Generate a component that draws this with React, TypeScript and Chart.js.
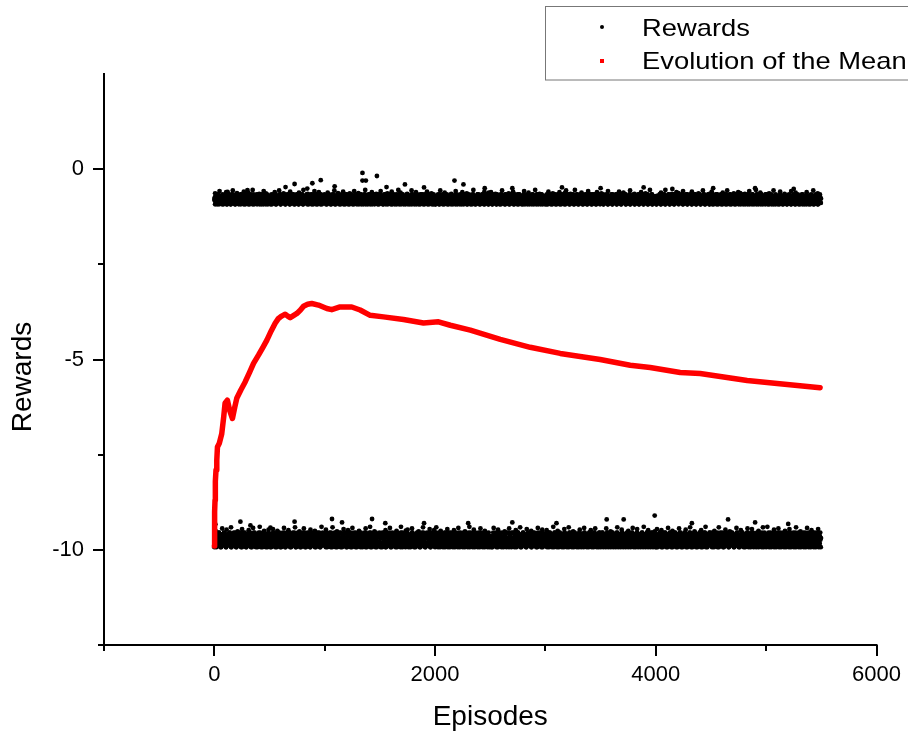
import React, { useEffect, useRef } from "react";
import { Chart, registerables } from "chart.js";

Chart.register(...registerables);

const FONT = '"Liberation Sans", Arial, Helvetica, sans-serif';

// Axis ranges and tick spacing
const X_MIN = -1000;
const X_MAX = 6000;
const X_STEP = 1000;
const X_LABEL_EVERY = 2000;
const Y_MIN = -12.5;
const Y_MAX = 2.5;
const Y_STEP = 2.5;
const Y_LABEL_EVERY = 5;

const xTitle = "Episodes";
const yTitle = "Rewards";
const rewardsLabel = "Rewards";
const meanLabel = "Evolution of the Mean";

// Running mean of the rewards, sampled along the episodes
const meanEpisodes = [
  0, 1, 2, 4, 6, 9, 15, 22, 28, 45, 67, 85, 97, 118, 140, 164, 185, 203, 240,
  279, 320, 355, 401, 440, 476, 515, 551, 581, 610, 642, 665, 687, 720, 748,
  780, 808, 845, 883, 943, 1019, 1064, 1139, 1245, 1321, 1412, 1533, 1714,
  1895, 2031, 2138, 2319, 2591, 2862, 3134, 3496, 3768, 3949, 4221, 4402,
  4828, 5100, 5489,
];
const meanValues = [
  -9.9, -9.8, -9.5, -9.0, -8.7, -8.2, -7.9, -7.65, -7.3, -7.2, -6.95, -6.5,
  -6.15, -6.07, -6.35, -6.55, -6.25, -6.02, -5.8, -5.59, -5.33, -5.1, -4.88,
  -4.68, -4.49, -4.25, -4.05, -3.92, -3.86, -3.81, -3.86, -3.9, -3.84, -3.79,
  -3.7, -3.6, -3.55, -3.53, -3.57, -3.66, -3.69, -3.62, -3.62, -3.7, -3.84,
  -3.88, -3.95, -4.04, -4.01, -4.1, -4.23, -4.47, -4.68, -4.84, -5.0, -5.15,
  -5.21, -5.34, -5.37, -5.55, -5.63, -5.74,
];

// Per-episode rewards, one code per 5 episodes for each run of codes.
// Successful episodes: reward = SUCCESS_BASE + code * SUCCESS_STEP
// Failed episodes:     reward = FAILURE_BASE + code * FAILURE_STEP
const EPISODE_STEP = 5;
const SUCCESS_BASE = -0.96;
const SUCCESS_STEP = 0.037;
const FAILURE_BASE = -9.93;
const FAILURE_STEP = 0.048;

// First run of rewards, starting at episode 0
const successCodesA = [
  "4625318473362514273685124736651428374615293746251847326514837246153826471536284735162847315264837152",
  "5314267485213647352816453724615382746153284765132846517324685132746582314765283147652831476258314765",
  "3746152837461582374615289374615263748152837461528374615283746915283746152837461528374615283746251837",
  "2547316285413762543817264531728465312746853124763581427365184273651842763158247361542873615247386152",
  "6142735184627315426837154263718425637148523671452837164253817462537184265317428635174283561472835164",
  "3728164552813746213857462318547263158427361852437162854731624851736248517362485173624851736248517362",
  "4516273845162738451627384516273845196273845162738451627384516273845162738451627384516273845162738451",
  "2635417263854172635481726354817263548172693548172635481726354817263548172635481726354817263548172635",
  "5173624851736248517362485173624851736248597362485173624851736248517362485173624851736248517362485173",
  "3482516734825167348251673482516734825167348251673482591673482516734825167348251673482516734825167348",
  "6251473625147362514736251473625147362514736251473625147362514736251473625147362514736251473625147362",
];
const failureCodesA = [
  "0352716481203571648230517462813054726183025741683201574862031547286301574826310457286130457826310457",
  "2610573481526037148250361748205637148260357418260537142860351742860357418206357148260357148206357142",
  "1405263718405263178405623718405263718450263718405263781405263718405236718405263718405263718405263718",
  "3162057481306215748130621574813062157481306215794813062157481306215748130621574813062157481306215748",
  "0527143860527143680527143860527143860527413860527143860527143860527143860257143860527143860527143860",
  "4213065738421306573842130657384213065738421306597384213065738421306573842130657384213065738421306573",
  "2750413682750413682750143682750413682750413682750413682750413682705413682750413682750413682750413682",
  "1638205741638205741638205741683205741638205741638205741638250741638205741638205741638205741638205741",
  "3041726583041726583041726583041726583041726538041726583041726583041726583041726583041726583041726583",
  "5206314872520631487252063148725206314872520631487252063148725206314872520631847252063148725206314872",
  "0473516280473516280473516280473516280473516280473516280473516280473516280473516280473516280473516280",
];

// Second run of rewards, starting at episode 2
const successCodesB = [
  "5163728417263584137265418327615834276158432716584327615843726158347261583472615834726158437261584372",
  "2748163527481635274816352748163527841635274816352748163527481635274816532748163527481635274816352748",
  "6314725836147258361472583614725836147258361742583614725836147258361472583614725836147258361472583614",
  "4827361548273615482736154827361548273615482736154827361548723615482736154827361548273615482736154827",
  "1536284715362847153628471536284715362847153628471536284751362847153628471536284715362847153628471536",
  "3751846237518462375184623751846237518462375184623751846237518462375184623751846237518462375184623751",
  "5284173652841736528417365284173652841736528417365284173652841736528417365284173652841736528417365284",
  "2463817524638175246381752463817524638175246381752463817524638175246381752463817524638175246381752463",
  "6135724861357248613572486135724861357248613572486135724861357248613572486135724861357248613572486135",
  "4718253647182536471825364718253647182536471825364718253647182536471825364718253647182536471825364718",
  "3825617438256174382561743825617438256174382561743825617438256174382561743825617438256174382561743825",
];
const failureCodesB = [
  "4160527384160527384160527348160527384160527384160527384160527384160527384160527384160527384160527384",
  "7031648257031648257031648257031648257031648257301648257031648257031648257031648257031648257031648257",
  "2584061732584061732584061732584061732584061732584061732584061732584601732584061732584061732584061732",
  "5062817435062817435062817435062817435062817435062817435062817435062817435062871435062817435062817435",
  "1847302561847302561847302561847302561847302561847302561847302561847302561847302561847302561847302561",
  "6205381476205381476205381476205381476205381476205381476205381476205381476205381476205381476205381476",
  "3714620853714620853714620853714620853714620853714620853714620853714620853714620853714620853714620853",
  "0538172640538172640538172640538172640538172640538172640538172640538172640538172640538172640538172640",
  "7260413857260413857260413857260413857260413857260413857260413857260413857260413857260413857260413857",
  "2481605372481605372481605372481605372481605372481605372481605372481605372481605372481605372481605372",
  "5371802645371802645371802645371802645371802645371802645371802645371802645371802645371802645371802645",
];

// Sparse rewards along the upper edge of each band, one code per 20 episodes ('.' = none)
const FRINGE_STEP = 20;
const SUCCESS_FRINGE_BASE = -0.68;
const FAILURE_FRINGE_BASE = -9.53;
const FRINGE_CODE_STEP = 0.015;
const successFringe = [
  "3.7..52.8.1..6.4.9..2.73.",
  "..5.8.3..61..4.9.2..7.5..",
  ".4..8.2.6..3.7..1.9..5.2.",
  "7..3.6..94..2.8.5..1.6.3.",
  "..8.4..2.7..5.3..9.1..6.4",
  "5.2..8..3.6.1..7.4..9.2..",
  ".6.3..5..8.2.9..4..7.1.5.",
  "3..7.1..6.4..8.2..5.3.9..",
  "..4.9..2.5..7.1.6..3.8..2",
  "6.1..4.8..3.5..2.7..9.4..",
  ".3.8..6.2..7.4..1.5..8.3.",
];
const failureFringe = [
  "2..6.4.8..1.5..3.7..9.2.4",
  ".5.2..7.3..8.1.6..4.2..9.",
  "4..8.1..5.3.7..2..6.9.1..",
  "..3.7..2.9..4.6..1.8..5.3",
  "8.2..5..3.7..1.9.4..6.2..",
  ".7.4..1.6..3.8..5.2..7.4.",
  "3..9.2..5.8.1..4.7..3.6..",
  "..6.1..8.4..2.7.5..9.3..1",
  "5.3..7.2..6..4.8.1..3.9..",
  ".2.8..4.1..7.3..6.5..2.8.",
  "9..4.6..2.5..8.1..7.3..5.",
];

// Rewards that stand clear of the two bands: [episode, reward]
const successOutliers: [number, number][] = [
  [1342, -0.1], [1342, -0.3], [1373, -0.3], [1473, -0.18], [964, -0.29],
  [888, -0.37], [727, -0.39], [645, -0.47], [842, -0.51], [1727, -0.4],
  [2176, -0.3], [2257, -0.4], [1090, -0.45], [1560, -0.47], [1900, -0.48],
  [2450, -0.5], [2700, -0.5], [3150, -0.48], [3500, -0.5], [3890, -0.48],
  [4150, -0.52], [4520, -0.5], [4900, -0.5], [5250, -0.52], [300, -0.55],
  [120, -0.6],
];
const failureOutliers: [number, number][] = [
  [9, -9.33], [236, -9.26], [327, -9.36], [508, -9.42], [727, -9.26],
  [1066, -9.19], [1157, -9.28], [1429, -9.19], [1549, -9.3], [1900, -9.3],
  [2300, -9.3], [2700, -9.28], [3100, -9.3], [3555, -9.2], [3709, -9.2],
  [3990, -9.1], [4327, -9.3], [4655, -9.2], [4900, -9.28], [5200, -9.32],
];

function bandPoints(
  codes: string[],
  firstEpisode: number,
  episodeStep: number,
  base: number,
  step: number
) {
  const pts: { x: number; y: number }[] = [];
  let idx = 0;
  for (const chunk of codes) {
    for (const ch of chunk) {
      if (ch !== ".") {
        pts.push({ x: firstEpisode + idx * episodeStep, y: base + Number(ch) * step });
      }
      idx++;
    }
  }
  return pts;
}

function buildRewards() {
  const pts = [
    ...bandPoints(successCodesA, 0, EPISODE_STEP, SUCCESS_BASE, SUCCESS_STEP),
    ...bandPoints(successCodesB, 2, EPISODE_STEP, SUCCESS_BASE, SUCCESS_STEP),
    ...bandPoints(failureCodesA, 0, EPISODE_STEP, FAILURE_BASE, FAILURE_STEP),
    ...bandPoints(failureCodesB, 2, EPISODE_STEP, FAILURE_BASE, FAILURE_STEP),
    ...bandPoints(successFringe, 7, FRINGE_STEP, SUCCESS_FRINGE_BASE, FRINGE_CODE_STEP),
    ...bandPoints(failureFringe, 11, FRINGE_STEP, FAILURE_FRINGE_BASE, FRINGE_CODE_STEP),
  ];
  for (const [x, y] of successOutliers) pts.push({ x, y });
  for (const [x, y] of failureOutliers) pts.push({ x, y });
  return pts;
}

const framePlugin = {
  id: "frame",
  afterDraw(chart: any) {
    const { ctx, chartArea: a, scales } = chart;
    const xs = scales.x;
    const ys = scales.y;
    ctx.save();

    // axis lines
    ctx.strokeStyle = "#000";
    ctx.lineWidth = 2;
    ctx.beginPath();
    ctx.moveTo(a.left - 6, a.bottom);
    ctx.lineTo(a.right + 1, a.bottom);
    ctx.moveTo(a.left, a.top - 1);
    ctx.lineTo(a.left, a.bottom + 1);
    ctx.stroke();

    // outward tick marks, major and minor
    ctx.beginPath();
    for (const t of xs.ticks) {
      const p = Math.round(xs.getPixelForValue(t.value));
      const len = t.value % X_LABEL_EVERY === 0 ? 11 : 6;
      ctx.moveTo(p, a.bottom);
      ctx.lineTo(p, a.bottom + len);
    }
    for (const t of ys.ticks) {
      if (t.value <= Y_MIN || t.value >= Y_MAX) continue;
      const p = Math.round(ys.getPixelForValue(t.value));
      const len = t.value % Y_LABEL_EVERY === 0 ? 11 : 6;
      ctx.moveTo(a.left, p);
      ctx.lineTo(a.left - len, p);
    }
    ctx.stroke();

    // axis titles
    ctx.fillStyle = "#000";
    ctx.font = `28px ${FONT}`;
    ctx.textAlign = "center";
    ctx.textBaseline = "middle";
    ctx.fillText(xTitle, (a.left + a.right) / 2, 717);
    ctx.save();
    ctx.translate(23, 377);
    ctx.rotate(-Math.PI / 2);
    ctx.fillText(yTitle, 0, 0);
    ctx.restore();

    // legend box
    ctx.strokeStyle = "#777";
    ctx.lineWidth = 1;
    ctx.strokeRect(545.5, 6.5, 420, 73.5);
    ctx.fillStyle = "#000";
    ctx.beginPath();
    ctx.arc(602, 27, 2, 0, Math.PI * 2);
    ctx.fill();
    ctx.fillStyle = "#ff0000";
    ctx.fillRect(600, 59, 4, 4);
    ctx.fillStyle = "#000";
    ctx.font = `24px ${FONT}`;
    ctx.textAlign = "left";
    ctx.textBaseline = "alphabetic";
    const entries: [string, number][] = [
      [rewardsLabel, 36],
      [meanLabel, 68.5],
    ];
    for (const [txt, base] of entries) {
      ctx.save();
      ctx.translate(642, base);
      ctx.scale(1.14, 1);
      ctx.fillText(txt, 0, 0);
      ctx.restore();
    }
    ctx.restore();
  },
};

export default function App() {
  const canvasRef = useRef<HTMLCanvasElement | null>(null);

  useEffect(() => {
    if (!canvasRef.current) return;
    const meanData = meanEpisodes.map((x, i) => ({ x, y: meanValues[i] }));
    const chart = new Chart(canvasRef.current, {
      type: "scatter",
      data: {
        datasets: [
          {
            label: meanLabel,
            data: meanData,
            showLine: true,
            borderColor: "#ff0000",
            borderWidth: 5.5,
            pointRadius: 0,
            pointHoverRadius: 0,
            tension: 0,
            borderJoinStyle: "round",
            borderCapStyle: "round",
          } as any,
          {
            label: rewardsLabel,
            data: buildRewards(),
            showLine: false,
            pointRadius: 2.4,
            pointHoverRadius: 2.4,
            pointBorderWidth: 0,
            backgroundColor: "#000",
            borderColor: "#000",
          } as any,
        ],
      },
      options: {
        animation: false,
        responsive: true,
        maintainAspectRatio: false,
        events: [],
        layout: { padding: { left: 0, top: 74, right: 31.5, bottom: 0 } },
        plugins: {
          legend: { display: false },
          tooltip: { enabled: false },
        },
        scales: {
          x: {
            type: "linear",
            min: X_MIN,
            max: X_MAX,
            grid: { display: false, drawTicks: false },
            border: { display: false },
            afterFit: (s: any) => {
              s.height = 92;
              s.paddingLeft = 0;
              s.paddingRight = 0;
            },
            ticks: {
              stepSize: X_STEP,
              autoSkip: false,
              maxRotation: 0,
              padding: 17,
              color: "#000",
              font: { family: FONT, size: 22 },
              callback: (v: any) => (Number(v) % X_LABEL_EVERY === 0 ? String(v) : ""),
            },
          },
          y: {
            type: "linear",
            min: Y_MIN,
            max: Y_MAX,
            grid: { display: false, drawTicks: false },
            border: { display: false },
            afterFit: (s: any) => {
              s.width = 104;
              s.paddingTop = 0;
              s.paddingBottom = 0;
            },
            ticks: {
              stepSize: Y_STEP,
              autoSkip: false,
              padding: 20,
              color: "#000",
              font: { family: FONT, size: 22 },
              callback: (v: any) => (Number(v) % Y_LABEL_EVERY === 0 ? String(v) : ""),
            },
          },
        },
      },
      plugins: [framePlugin],
    });
    return () => chart.destroy();
  }, []);

  return (
    <div
      style={{
        position: "fixed",
        left: 0,
        top: 0,
        width: 908,
        height: 737,
        background: "#fff",
      }}
    >
      <canvas ref={canvasRef} />
    </div>
  );
}
